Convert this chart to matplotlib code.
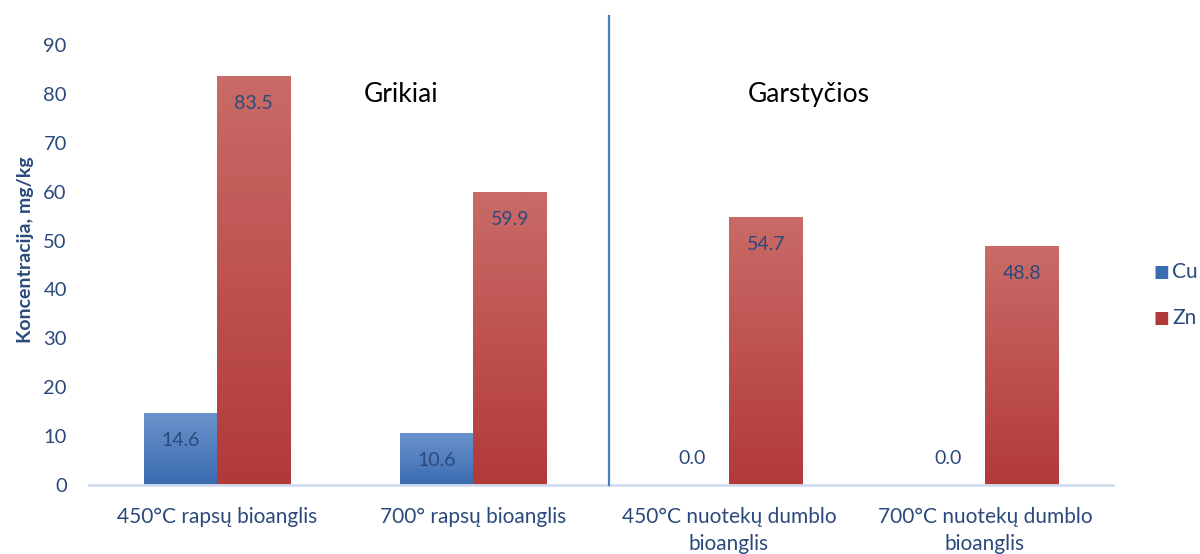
import numpy as np
import matplotlib
matplotlib.use('Agg')
import matplotlib.pyplot as plt
from matplotlib.colors import LinearSegmentedColormap

plt.rcParams['font.family'] = ['Lato', 'DejaVu Sans']

categories = ['450°C rapsų bioanglis', '700° rapsų bioanglis',
              '450°C nuotekų dumblo\nbioanglis', '700°C nuotekų dumblo\nbioanglis']
cu = [14.6, 10.6, 0.0, 0.0]
zn = [83.5, 59.9, 54.7, 48.8]
groups = ['Grikiai', 'Garstyčios']

TXT = '#2B4A7C'
cu_top, cu_bot = '#6B92CB', '#3A6CB1'
zn_top, zn_bot = '#C96B67', '#B2393A'

fig = plt.figure(figsize=(12, 5.54), dpi=100)
ax = fig.add_axes([0.0742, 0.1245, 0.8533, 0.7943])

x = np.arange(len(categories))
w = 0.287


def grad_bar(xc, h, top, bot):
    if h <= 0:
        return
    cmap = LinearSegmentedColormap.from_list('g', [bot, top])
    img = np.linspace(0, 1, 256).reshape(-1, 1)
    ax.imshow(img, extent=[xc - w / 2, xc + w / 2, 0, h], origin='lower',
              cmap=cmap, aspect='auto', zorder=2)


for i in range(len(categories)):
    grad_bar(x[i] - w / 2, cu[i], cu_top, cu_bot)
    grad_bar(x[i] + w / 2, zn[i], zn_top, zn_bot)
    for xc, v in [(x[i] - w / 2, cu[i]), (x[i] + w / 2, zn[i])]:
        off = -19.5 if v > 0 else 19
        ax.annotate(f'{v:.1f}', (xc, v), xytext=(0, off), textcoords='offset points',
                    ha='center', va='center', fontsize=14, color=TXT, zorder=3)

ax.set_xlim(-0.5, len(categories) - 0.5)
ax.set_ylim(0, 90)
ax.set_yticks(np.arange(0, 91, 10))
ax.set_xticks(x)
ax.set_xticklabels(categories, fontsize=15, color=TXT, linespacing=1.45)
ax.tick_params(axis='y', length=0, pad=16, labelsize=14.5, labelcolor=TXT)
ax.tick_params(axis='x', length=0, pad=16)
for s in ['top', 'right', 'left']:
    ax.spines[s].set_visible(False)
ax.spines['bottom'].set_color('#D0DEEF')
ax.spines['bottom'].set_linewidth(2)
ax.set_ylabel('Koncentracija, mg/kg', fontsize=14, fontweight='bold', color=TXT)
ax.yaxis.set_label_coords(-0.054, 0.535)

# separator between groups
ax.plot([1.531, 1.531], [0, 95.9], color='#4A7EC0', lw=1.6, clip_on=False, zorder=4)
ax.text(0.72, 79.8, groups[0], fontsize=19, color='black', ha='center', va='center')
ax.text(2.31, 79.8, groups[1], fontsize=19, color='black', ha='center', va='center')

# legend
fig.text(0.968, 1 - 272 / 554, '■', color=cu_bot, fontsize=12, ha='center', va='center',
         family='DejaVu Sans')
fig.text(0.9767, 1 - 272 / 554, 'Cu', color=TXT, fontsize=15, ha='left', va='center')
fig.text(0.968, 1 - 318 / 554, '■', color=zn_bot, fontsize=12, ha='center', va='center',
         family='DejaVu Sans')
fig.text(0.9767, 1 - 318 / 554, 'Zn', color=TXT, fontsize=15, ha='left', va='center')

fig.savefig('out.png', dpi=100)
